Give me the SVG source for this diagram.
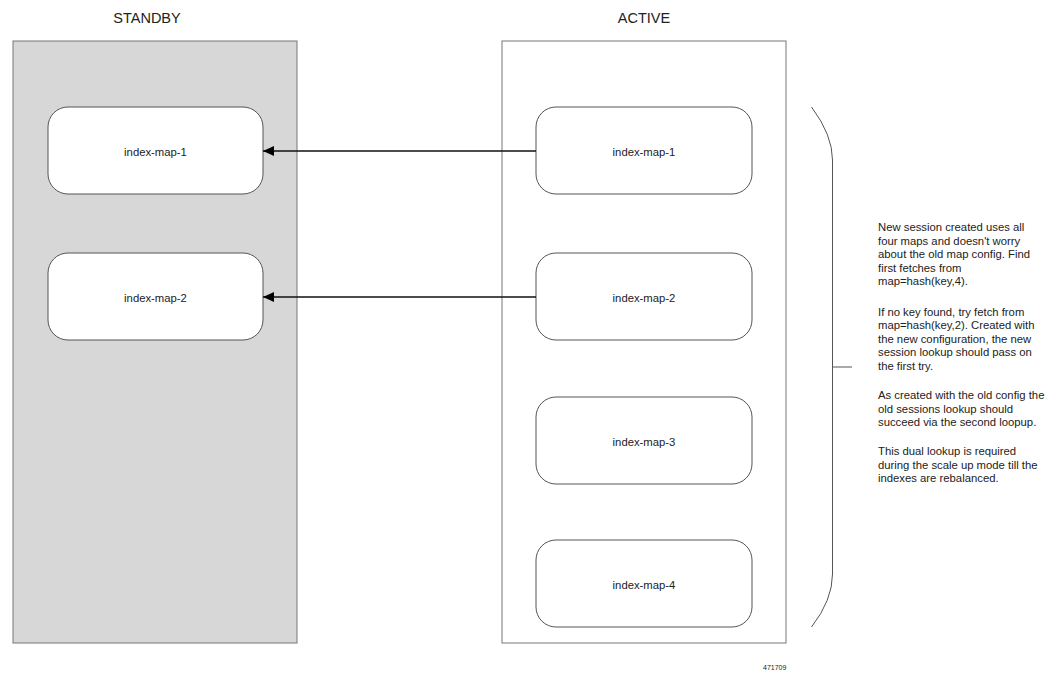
<svg xmlns="http://www.w3.org/2000/svg" width="1064" height="674" viewBox="0 0 1064 674">
<style>
text{font-family:"Liberation Sans",Arial,sans-serif;fill:#222}
.title{font-size:14.5px;text-anchor:middle}
.lbl{font-size:11.3px;text-anchor:middle}
.note{font-size:11.3px}
.panel{stroke:#777;stroke-width:1}
.box{fill:#fff;stroke:#555;stroke-width:1}
.conn{stroke:#111;stroke-width:1.5;fill:none}
.brace{stroke:#555;stroke-width:1;fill:none}
</style>
<defs>
<marker id="ah" markerWidth="12" markerHeight="10" refX="11" refY="5" orient="auto" markerUnits="userSpaceOnUse">
<path d="M0,0 L11,5 L0,10 Z" fill="#000"/>
</marker>
</defs>
<rect width="1064" height="674" fill="#fff"/>
<g id="standby">
<rect class="panel" x="13" y="41" width="284" height="602" fill="#d7d7d7"/>
<text class="title" x="147" y="22.5">STANDBY</text>
</g>
<g id="active">
<rect class="panel" x="502" y="41" width="284" height="602" fill="#fff"/>
<text class="title" x="644" y="22.5">ACTIVE</text>
</g>
<g id="s-map-1"><rect class="box" x="48" y="107" width="215" height="87" rx="20"/><text class="lbl" x="155.5" y="156">index-map-1</text></g>
<g id="s-map-2"><rect class="box" x="48" y="253" width="215" height="87" rx="20"/><text class="lbl" x="155.5" y="302">index-map-2</text></g>
<g id="a-map-1"><rect class="box" x="536" y="107" width="216" height="87" rx="20"/><text class="lbl" x="644" y="156">index-map-1</text></g>
<g id="a-map-2"><rect class="box" x="536" y="253" width="216" height="87" rx="20"/><text class="lbl" x="644" y="302">index-map-2</text></g>
<g id="a-map-3"><rect class="box" x="536" y="397" width="216" height="87" rx="20"/><text class="lbl" x="644" y="446">index-map-3</text></g>
<g id="a-map-4"><rect class="box" x="536" y="540" width="216" height="87" rx="20"/><text class="lbl" x="644" y="589">index-map-4</text></g>
<g id="connectors">
<line class="conn" x1="536" y1="151" x2="263" y2="151" marker-end="url(#ah)"/>
<line class="conn" x1="536" y1="297" x2="263" y2="297" marker-end="url(#ah)"/>
</g>
<g id="brace">
<path class="brace" d="M811.5,107 Q832.5,135 832.5,160 L832.5,574 Q832.5,600 811.5,627"/>
<line class="brace" x1="832.5" y1="367" x2="852" y2="367"/>
</g>
<g id="note">
<text class="note">
<tspan x="878" y="231">New session created uses all</tspan>
<tspan x="878" y="244.5">four maps and doesn't worry</tspan>
<tspan x="878" y="258">about the old map config. Find</tspan>
<tspan x="878" y="271.5">first fetches from</tspan>
<tspan x="878" y="285">map=hash(key,4).</tspan>
<tspan x="878" y="315.5">If no key found, try fetch from</tspan>
<tspan x="878" y="329">map=hash(key,2). Created with</tspan>
<tspan x="878" y="342.5">the new configuration, the new</tspan>
<tspan x="878" y="356">session lookup should pass on</tspan>
<tspan x="878" y="369.5">the first try.</tspan>
<tspan x="878" y="399">As created with the old config the</tspan>
<tspan x="878" y="412.5">old sessions lookup should</tspan>
<tspan x="878" y="426">succeed via the second loopup.</tspan>
<tspan x="878" y="455">This dual lookup is required</tspan>
<tspan x="878" y="468.5">during the scale up mode till the</tspan>
<tspan x="878" y="482">indexes are rebalanced.</tspan>
</text>
</g>
<text x="763" y="670" style="font-size:7px">471709</text>
</svg>
